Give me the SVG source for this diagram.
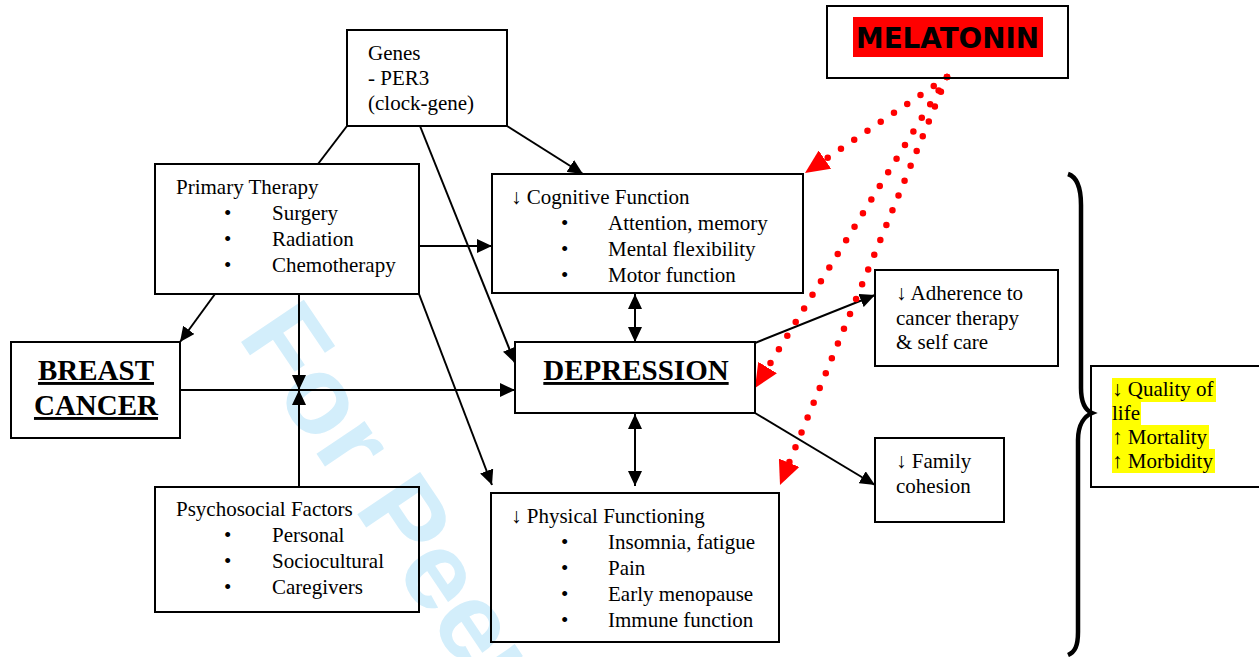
<svg xmlns="http://www.w3.org/2000/svg" width="1259" height="657" viewBox="0 0 1259 657">
<defs>
<style>
.box{fill:none;stroke:#000;stroke-width:2}
.t{font-family:"Liberation Serif","Times New Roman",serif;font-size:21px;fill:#000}
.b{font-family:"Liberation Serif","Times New Roman",serif;font-size:29px;font-weight:bold;fill:#000;text-decoration:underline}
.ln{stroke:#000;stroke-width:2;fill:none}
.red{stroke:#f00;stroke-width:6.5;stroke-linecap:round;stroke-dasharray:0 16;fill:none}
.hl{fill:#ffff00}
</style>
<marker id="ah" markerUnits="userSpaceOnUse" markerWidth="15" markerHeight="14" refX="15" refY="7" orient="auto-start-reverse"><path d="M0,0 L15,7 L0,14 z" fill="#000"/></marker>
<marker id="rh" markerUnits="userSpaceOnUse" markerWidth="24" markerHeight="22" refX="24" refY="11" orient="auto"><path d="M0,0 L24,11 L0,22 z" fill="#f00"/></marker>
</defs>
<rect width="1259" height="657" fill="#fff"/>
<text x="237" y="336" transform="rotate(56 237 336)" font-family="Liberation Sans, Arial, sans-serif" font-weight="bold" font-size="110" fill="#d3eefb">For Peer Review</text>

<g id="connectors">
<line class="ln" x1="347" y1="126" x2="318" y2="164"/>
<line class="ln" x1="420" y1="126" x2="515" y2="363" marker-end="url(#ah)"/>
<line class="ln" x1="507" y1="126" x2="583" y2="174" marker-end="url(#ah)"/>
<line class="ln" x1="419" y1="246" x2="492" y2="246" marker-end="url(#ah)"/>
<line class="ln" x1="215" y1="294" x2="180" y2="342" marker-end="url(#ah)"/>
<line class="ln" x1="299" y1="294" x2="299" y2="390" marker-end="url(#ah)"/>
<line class="ln" x1="299" y1="487" x2="299" y2="390" marker-end="url(#ah)"/>
<line class="ln" x1="180" y1="390" x2="515" y2="390" marker-end="url(#ah)"/>
<line class="ln" x1="419" y1="294" x2="492" y2="485" marker-end="url(#ah)"/>
<line class="ln" x1="635" y1="294" x2="635" y2="342" marker-start="url(#ah)" marker-end="url(#ah)"/>
<line class="ln" x1="635" y1="414" x2="635" y2="486" marker-start="url(#ah)" marker-end="url(#ah)"/>
<line class="ln" x1="755" y1="343" x2="875" y2="295" marker-end="url(#ah)"/>
<line class="ln" x1="755" y1="413" x2="875" y2="485" marker-end="url(#ah)"/>
<line class="red" x1="947" y1="77" x2="805" y2="173" marker-end="url(#rh)"/>
<line class="red" x1="947" y1="77" x2="755" y2="388" marker-end="url(#rh)"/>
<line class="red" x1="947" y1="77" x2="780" y2="485" marker-end="url(#rh)"/>
<path d="M1068,174 C1077,177 1081,187 1081,205 L1081,388 C1081,403 1085,410 1092,413 C1085,416 1078,424 1078,440 L1078,632 C1078,646 1075,652 1068,655" fill="none" stroke="#000" stroke-width="4.5"/>
</g>

<g id="melatonin">
<rect class="box" x="827" y="6" width="241" height="72"/>
<rect x="853" y="17" width="190" height="40" fill="#f00"/>
<text x="856" y="48" font-family="DejaVu Sans, sans-serif" font-weight="bold" font-size="28" textLength="183" lengthAdjust="spacingAndGlyphs" fill="#000">MELATONIN</text>
</g>

<g id="genes">
<rect class="box" x="347" y="30" width="160" height="96"/>
<text class="t" x="368" y="60">Genes</text>
<text class="t" x="368" y="85">- PER3</text>
<text class="t" x="368" y="110">(clock-gene)</text>
</g>

<g id="primary-therapy">
<rect class="box" x="155" y="164" width="264" height="130"/>
<text class="t" x="176" y="194">Primary Therapy</text>
<text class="t" x="224" y="220">•</text><text class="t" x="272" y="220">Surgery</text>
<text class="t" x="224" y="246">•</text><text class="t" x="272" y="246">Radiation</text>
<text class="t" x="224" y="272">•</text><text class="t" x="272" y="272">Chemotherapy</text>
</g>

<g id="breast-cancer">
<rect class="box" x="11" y="342" width="169" height="96"/>
<text class="b" x="96" y="380" text-anchor="middle">BREAST</text>
<text class="b" x="96" y="415" text-anchor="middle">CANCER</text>
</g>

<g id="psychosocial">
<rect class="box" x="155" y="487" width="264" height="125"/>
<text class="t" x="176" y="516">Psychosocial Factors</text>
<text class="t" x="224" y="542">•</text><text class="t" x="272" y="542">Personal</text>
<text class="t" x="224" y="568">•</text><text class="t" x="272" y="568">Sociocultural</text>
<text class="t" x="224" y="594">•</text><text class="t" x="272" y="594">Caregivers</text>
</g>

<g id="cognitive">
<rect class="box" x="492" y="174" width="311" height="119"/>
<text class="t" x="511" y="204">↓ Cognitive Function</text>
<text class="t" x="561" y="230">•</text><text class="t" x="608" y="230">Attention, memory</text>
<text class="t" x="561" y="256">•</text><text class="t" x="608" y="256">Mental flexibility</text>
<text class="t" x="561" y="282">•</text><text class="t" x="608" y="282">Motor function</text>
</g>

<g id="depression">
<rect class="box" x="515" y="342" width="240" height="71"/>
<text class="b" x="636" y="380" text-anchor="middle">DEPRESSION</text>
</g>

<g id="physical">
<rect class="box" x="491" y="493" width="288" height="149"/>
<text class="t" x="511" y="523">↓ Physical Functioning</text>
<text class="t" x="561" y="549">•</text><text class="t" x="608" y="549">Insomnia, fatigue</text>
<text class="t" x="561" y="575">•</text><text class="t" x="608" y="575">Pain</text>
<text class="t" x="561" y="601">•</text><text class="t" x="608" y="601">Early menopause</text>
<text class="t" x="561" y="627">•</text><text class="t" x="608" y="627">Immune function</text>
</g>

<g id="adherence">
<rect class="box" x="875" y="270" width="183" height="96"/>
<text class="t" x="896" y="300">↓ Adherence to</text>
<text class="t" x="896" y="325">cancer therapy</text>
<text class="t" x="896" y="349">&amp; self care</text>
</g>

<g id="family">
<rect class="box" x="875" y="438" width="129" height="84"/>
<text class="t" x="896" y="468">↓ Family</text>
<text class="t" x="896" y="493">cohesion</text>
</g>

<g id="outcomes">
<rect class="box" x="1091" y="366" width="170" height="121"/>
<rect class="hl" x="1112" y="378" width="104" height="24"/>
<rect class="hl" x="1112" y="402" width="29" height="23"/>
<rect class="hl" x="1112" y="425" width="97" height="24"/>
<rect class="hl" x="1112" y="449" width="103" height="24"/>
<text class="t" x="1112" y="396">↓ Quality of</text>
<text class="t" x="1112" y="420">life</text>
<text class="t" x="1112" y="444">↑ Mortality</text>
<text class="t" x="1112" y="468">↑ Morbidity</text>
</g>
</svg>
